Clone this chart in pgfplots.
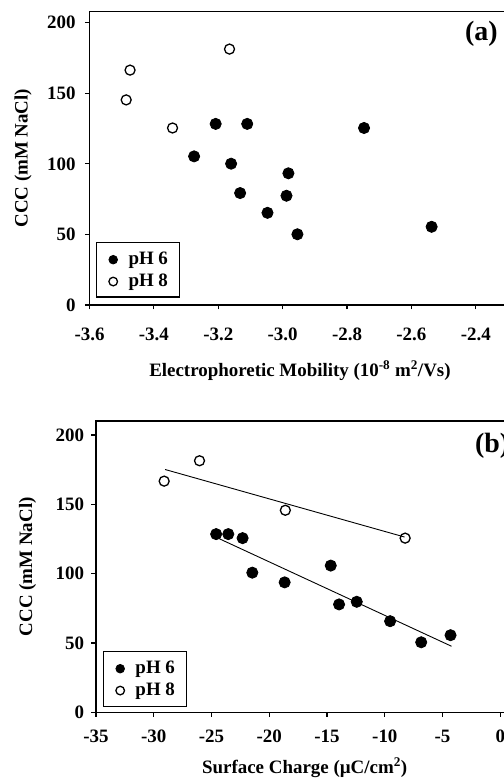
\documentclass[border=0pt]{standalone}
\usepackage{pgfplots}
\pgfplotsset{compat=1.18}
\usepackage{fontspec}
\setmainfont{Liberation Serif}

\newcommand{\lblfont}{\fontsize{19}{21}\selectfont\bfseries}
\newcommand{\tagfont}{\fontsize{28}{30}\selectfont\bfseries}

\pgfplotsset{
  cccaxis/.style={
    scale only axis,
    anchor=south west,
    axis line style={line width=1.4bp},
    every tick/.style={black, line width=1.2bp},
    tick align=outside,
    major tick length=4.5bp,
    xtick pos=bottom, ytick pos=left,
    ymin=0,
    ytick={0,50,100,150,200},
    yticklabels={0,50,100,150,200},
    tick label style={font=\lblfont},
    label style={font=\lblfont},
    clip=false,
    legend cell align=left,
    legend style={draw=black, line width=1.2bp, font=\lblfont,
      inner xsep=11.6bp, inner ysep=7.3bp, anchor=south west,
      nodes={inner xsep=0bp, inner ysep=2.2bp}, row sep=3.4bp},
    legend image code/.code={
      \path (-4.7bp,0bp) (14.7bp,0bp);
      \draw[##1, mark size=4.3bp] plot coordinates {(0bp,-1bp)};
    },
  },
  ph6/.style={only marks, mark=*, mark size=5.6bp,
    mark options={fill=black, draw=black, line width=0.8bp}},
  ph8/.style={only marks, mark=o, mark size=5bp,
    mark options={draw=black, fill=white, line width=1.3bp}},
  fitline/.style={black, line width=0.9bp, forget plot},
}

\begin{document}
\begin{tikzpicture}

% (a) CCC against electrophoretic mobility
\begin{axis}[cccaxis,
  at={(89.5bp,473bp)},
  width=450.6bp, height=293.6bp,
  xmin=-3.6, xmax=-2.2, ymax=208,
  xtick={-3.6,-3.4,-3.2,-3.0,-2.8,-2.6,-2.4,-2.2},
  xticklabels={-3.6,-3.4,-3.2,-3.0,-2.8,-2.6,-2.4,-2.2},
  xticklabel style={yshift=-14.5bp},
  yticklabel style={xshift=-6bp},
  xlabel={Electrophoretic Mobility (10\textsuperscript{-8} m\textsuperscript{2}/Vs)},
  xlabel style={at={(axis description cs:0.467,-0.242)}, anchor=base},
  ylabel={CCC (mM NaCl)},
  ylabel style={at={(axis description cs:-0.1476,0.5)}, anchor=center},
  legend style={at={(axis description cs:0.0138,0.0249)}},
]
\addplot[ph6] coordinates {
  (-3.275,105.3) (-3.208,128.3) (-3.110,128.3) (-3.160,100.1)
  (-3.132,79.3) (-3.047,65.3) (-2.982,93.3) (-2.988,77.4)
  (-2.954,50.1) (-2.747,125.4) (-2.537,55.4)
};
\addlegendentry{pH 6}
\addplot[ph8] coordinates {
  (-3.486,145.3) (-3.474,166.4) (-3.342,125.4) (-3.165,181.3)
};
\addlegendentry{pH 8}
\node[font=\tagfont, anchor=north west, inner sep=0pt]
  at (axis description cs:0.8333,0.968) {(a)};
\end{axis}

% (b) CCC against surface charge, with linear fits
\begin{axis}[cccaxis,
  at={(96bp,65.7bp)},
  width=462.1bp, height=291.2bp,
  xmin=-35, xmax=5, ymax=210,
  xtick={-35,-30,-25,-20,-15,-10,-5,0,5},
  xticklabels={-35,-30,-25,-20,-15,-10,-5,0,5},
  xticklabel style={yshift=-10bp},
  yticklabel style={xshift=-4bp},
  xlabel={Surface Charge (µC/cm\textsuperscript{2})},
  xlabel style={at={(axis description cs:0.4516,-0.2085)}, anchor=base},
  ylabel={CCC (mM NaCl)},
  ylabel style={at={(axis description cs:-0.1482,0.5)}, anchor=center},
  legend style={at={(axis description cs:0.0145,0.0192)}},
]
\addplot[fitline] coordinates {(-29.02,175.1) (-8.29,126.4)};
\addplot[fitline] coordinates {(-24.31,125.1) (-4.22,47.6)};
\addplot[ph6] coordinates {
  (-24.60,128.5) (-23.55,128.5) (-22.31,125.6) (-21.47,100.7)
  (-18.67,93.7) (-14.68,105.8) (-13.96,77.8) (-12.43,79.7)
  (-9.54,65.7) (-6.85,50.5) (-4.31,55.6)
};
\addlegendentry{pH 6}
\addplot[ph8] coordinates {
  (-29.10,166.7) (-26.04,181.4) (-18.61,145.7) (-8.24,125.6)
};
\addlegendentry{pH 8}
\node[font=\tagfont, anchor=north west, inner sep=0pt]
  at (axis description cs:0.820,0.958) {(b)};
\end{axis}

\pgfresetboundingbox
\path[use as bounding box] (0bp,0bp) rectangle (504bp,778bp);
\end{tikzpicture}
\end{document}
